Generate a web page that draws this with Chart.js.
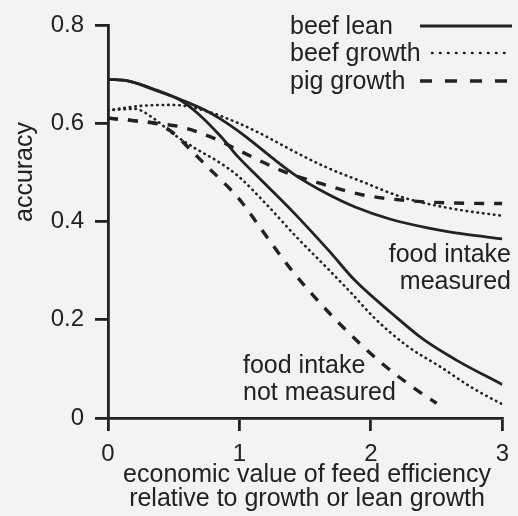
<!DOCTYPE html>
<html>
<head>
<meta charset="utf-8">
<script src="https://cdn.jsdelivr.net/npm/chart.js@4"></script>
<style>
  html, body { margin: 0; padding: 0; background: #f3f3f1; }
  #wrap { width: 518px; height: 516px; position: relative; }
</style>
</head>
<body>
<div id="wrap"><canvas id="chart"></canvas></div>
<script>
// values (x = economic value, y = accuracy)
const leanMeasX = [0, 0.15, 0.37, 0.56, 0.74, 0.91, 1.06, 1.25, 1.43, 1.66, 1.88, 2.15, 2.44, 2.7, 3.0];
const leanMeasY = [0.690, 0.687, 0.667, 0.648, 0.627, 0.600, 0.571, 0.530, 0.494, 0.458, 0.430, 0.405, 0.387, 0.375, 0.365];

const leanNotX = [0, 0.15, 0.37, 0.56, 0.69, 0.86, 0.99, 1.15, 1.40, 1.68, 1.88, 2.16, 2.40, 2.65, 3.0];
const leanNotY = [0.690, 0.687, 0.668, 0.646, 0.619, 0.573, 0.532, 0.489, 0.422, 0.341, 0.280, 0.213, 0.160, 0.118, 0.068];

const beefMeasX = [0, 0.25, 0.49, 0.74, 0.99, 1.15, 1.41, 1.66, 1.92, 2.25, 2.63, 3.0];
const beefMeasY = [0.627, 0.636, 0.638, 0.626, 0.601, 0.581, 0.544, 0.511, 0.483, 0.449, 0.426, 0.412];

const beefNotX = [0, 0.2, 0.35, 0.49, 0.66, 0.84, 0.99, 1.21, 1.43, 1.68, 1.86, 2.03, 2.28, 2.53, 2.78, 3.0];
const beefNotY = [0.627, 0.630, 0.610, 0.580, 0.550, 0.522, 0.493, 0.434, 0.370, 0.302, 0.252, 0.203, 0.146, 0.104, 0.060, 0.028];

const pigMeasX = [0, 0.19, 0.37, 0.54, 0.69, 0.84, 0.99, 1.15, 1.31, 1.63, 1.93, 2.28, 2.63, 3.0];
const pigMeasY = [0.611, 0.606, 0.600, 0.594, 0.582, 0.566, 0.546, 0.525, 0.505, 0.477, 0.455, 0.443, 0.438, 0.437];

const pigNotX = [0, 0.19, 0.39, 0.5, 0.63, 0.76, 0.89, 0.99, 1.19, 1.38, 1.60, 1.83, 2.08, 2.35, 2.50];
const pigNotY = [0.611, 0.606, 0.598, 0.580, 0.546, 0.511, 0.477, 0.449, 0.376, 0.307, 0.238, 0.174, 0.112, 0.057, 0.030];

const legendLabels = ['beef lean', 'beef growth', 'pig growth'];
const xTitle = ['economic value of feed efficiency', 'relative to growth or lean growth'];
const yTitle = 'accuracy';

const ink = '#222222';
const font = '"Liberation Sans", Arial, Helvetica, sans-serif';

function pts(xs, ys) {
    return xs.map((x, i) => ({ x: x, y: ys[i] }));
}

// line styles: solid, dotted, dashed
const styles = [
    { borderDash: [], borderWidth: 2.8, cap: 'butt' },
    { borderDash: [0.5, 5], borderWidth: 2.6, cap: 'round' },
    { borderDash: [10, 10], borderWidth: 3.4, cap: 'butt' }
];

function series(xs, ys, s) {
    return {
        data: pts(xs, ys),
        borderColor: ink,
        borderWidth: styles[s].borderWidth,
        borderDash: styles[s].borderDash,
        borderCapStyle: styles[s].cap,
        pointRadius: 0,
        fill: false,
        cubicInterpolationMode: 'monotone'
    };
}

// legend, axis titles and curve labels
const textPlugin = {
    id: 'texts',
    afterDraw(chart) {
        const ctx = chart.ctx;
        ctx.save();
        ctx.fillStyle = ink;
        ctx.strokeStyle = ink;
        ctx.font = '25px ' + font;
        ctx.textBaseline = 'alphabetic';

        // legend
        const legY = [26, 53, 81];
        ctx.textAlign = 'left';
        legendLabels.forEach((t, i) => {
            ctx.fillText(t, 290, legY[i] + 8);
        });
        ctx.lineWidth = 2.8;
        ctx.setLineDash([]);
        ctx.beginPath(); ctx.moveTo(420, legY[0]); ctx.lineTo(512, legY[0]); ctx.stroke();
        ctx.lineWidth = 2.6;
        ctx.lineCap = 'round';
        ctx.setLineDash([0.5, 7.5]);
        ctx.beginPath(); ctx.moveTo(432, legY[1]); ctx.lineTo(508, legY[1]); ctx.stroke();
        ctx.lineCap = 'butt';
        ctx.lineWidth = 3.4;
        ctx.setLineDash([12, 13]);
        ctx.beginPath(); ctx.moveTo(420, legY[2]); ctx.lineTo(512, legY[2]); ctx.stroke();
        ctx.setLineDash([]);

        // curve group labels
        ctx.textAlign = 'right';
        ctx.fillText('food intake', 511, 262);
        ctx.fillText('measured', 511, 289);
        ctx.textAlign = 'left';
        ctx.fillText('food intake', 243, 373);
        ctx.fillText('not measured', 243, 400);

        // x title
        ctx.textAlign = 'center';
        ctx.fillText(xTitle[0], 307, 482);
        ctx.fillText(xTitle[1], 307, 506);

        // y title
        ctx.translate(32, 172);
        ctx.rotate(-Math.PI / 2);
        ctx.fillText(yTitle, 0, 0);
        ctx.restore();
    }
};

const ctx = document.getElementById('chart').getContext('2d');
const chart = new Chart(ctx, {
    type: 'line',
    data: {
        datasets: [
            series(leanMeasX, leanMeasY, 0),
            series(leanNotX, leanNotY, 0),
            series(beefMeasX, beefMeasY, 1),
            series(beefNotX, beefNotY, 1),
            series(pigMeasX, pigMeasY, 2),
            series(pigNotX, pigNotY, 2)
        ]
    },
    options: {
        responsive: true,
        maintainAspectRatio: false,
        animation: false,
        layout: { padding: { top: 24, right: 7, left: 0, bottom: 0 } },
        plugins: {
            legend: { display: false },
            tooltip: { enabled: false }
        },
        scales: {
            x: {
                type: 'linear',
                min: 0,
                max: 3,
                afterFit: s => { s.height = 98; },
                ticks: { stepSize: 1, color: ink, padding: 9, font: { family: font, size: 24 } },
                grid: { drawOnChartArea: false, tickLength: 13, color: ink, lineWidth: 2.8 },
                border: { color: ink, width: 2.8 }
            },
            y: {
                min: 0,
                max: 0.8,
                afterFit: s => { s.width = 108; },
                ticks: { stepSize: 0.2, color: ink, padding: 11, font: { family: font, size: 24 } },
                grid: { drawOnChartArea: false, tickLength: 13, color: ink, lineWidth: 2.8 },
                border: { color: ink, width: 2.8 }
            }
        }
    },
    plugins: [textPlugin]
});
</script>
</body>
</html>
